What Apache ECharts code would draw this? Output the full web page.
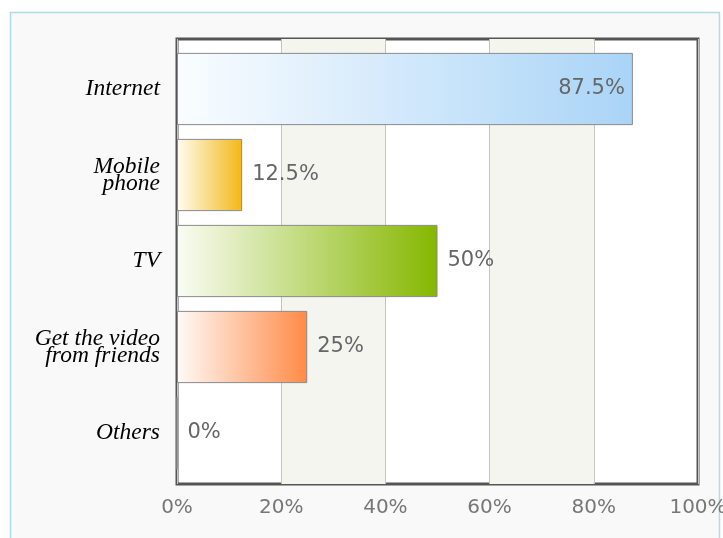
<!DOCTYPE html>
<html>
<head>
<meta charset="utf-8">
<script src="https://cdn.jsdelivr.net/npm/echarts@6/dist/echarts.min.js"></script>
<style>
  html, body { margin: 0; padding: 0; background: #ffffff; }
  #chart { width: 723px; height: 538px; }
</style>
</head>
<body>
<div id="chart"></div>
<script>
// Where people watch the video (share of respondents, %)
const categories = ['Internet', 'Mobile\nphone', 'TV', 'Get the video\nfrom friends', 'Others'];
const shares = [87.5, 12.5, 50, 25, 0];
const xTicks = [0, 20, 40, 60, 80, 100];

// Per-bar gradient: pale at the base, saturated at the tip
const barStartColors = ['#fafdff', '#fffcf2', '#fafcf4', '#fffaf7', '#ffffff'];
const barEndColors = ['#a9d4f7', '#f2b817', '#85b700', '#ff8a47', '#cccccc'];

const chart = echarts.init(document.getElementById('chart'));

const seriesData = shares.map((v, i) => ({
  value: v,
  itemStyle: {
    color: new echarts.graphic.LinearGradient(0, 0, 1, 0, [
      { offset: 0, color: barStartColors[i] },
      { offset: 1, color: barEndColors[i] }
    ])
  },
  label: v > 80 ? { position: 'insideRight', distance: 8 } : { position: 'right', distance: 10 }
}));

const xMin = xTicks[0];
const xMax = xTicks[xTicks.length - 1];

chart.setOption({
  backgroundColor: '#ffffff',
  animation: false,
  graphic: [{
    type: 'rect',
    z: -10,
    silent: true,
    shape: { x: 10.5, y: 12.5, width: 709, height: 540 },
    style: { fill: '#f9f9f9', stroke: '#b3dae7', lineWidth: 1.5 }
  }],
  grid: [
    // framed plot area with value scale
    {
      left: 177, right: 25, top: 39, bottom: 54,
      show: true,
      backgroundColor: '#ffffff',
      borderColor: '#555555',
      borderWidth: 3,
      containLabel: false,
      outerBoundsMode: 'none'
    },
    // inset band holding the bars
    {
      left: 177, right: 25, top: 46, bottom: 62,
      containLabel: false,
      outerBoundsMode: 'none'
    }
  ],
  xAxis: [
    {
      type: 'value',
      gridIndex: 0,
      min: xMin,
      max: xMax,
      interval: 20,
      axisLine: { show: false },
      axisTick: { show: false },
      splitLine: { show: true, lineStyle: { color: '#c4c4c4', width: 1 } },
      splitArea: { show: true, areaStyle: { color: ['rgba(0,0,0,0)', '#f5f5f0'] } },
      axisLabel: {
        formatter: '{value}%',
        color: '#777777',
        fontFamily: 'DejaVu Sans',
        fontSize: 20,
        margin: 14
      }
    },
    {
      type: 'value',
      gridIndex: 1,
      min: xMin,
      max: xMax,
      interval: 20,
      show: false
    }
  ],
  yAxis: [
    {
      type: 'category',
      gridIndex: 0,
      data: categories,
      show: false
    },
    {
      type: 'category',
      gridIndex: 1,
      data: categories,
      inverse: true,
      axisLine: { show: false },
      axisTick: { show: false },
      splitLine: { show: false },
      axisLabel: {
        color: '#000000',
        fontFamily: 'Liberation Serif',
        fontStyle: 'italic',
        fontSize: 23.5,
        lineHeight: 17,
        margin: 17,
        align: 'right'
      }
    }
  ],
  series: [{
    type: 'bar',
    xAxisIndex: 1,
    yAxisIndex: 1,
    data: seriesData,
    barCategoryGap: '16%',
    itemStyle: { borderColor: '#8a8a8a', borderWidth: 1 },
    label: {
      show: true,
      formatter: '{c}%',
      color: '#666666',
      fontFamily: 'DejaVu Sans',
      fontSize: 21
    }
  }]
});
</script>
</body>
</html>
